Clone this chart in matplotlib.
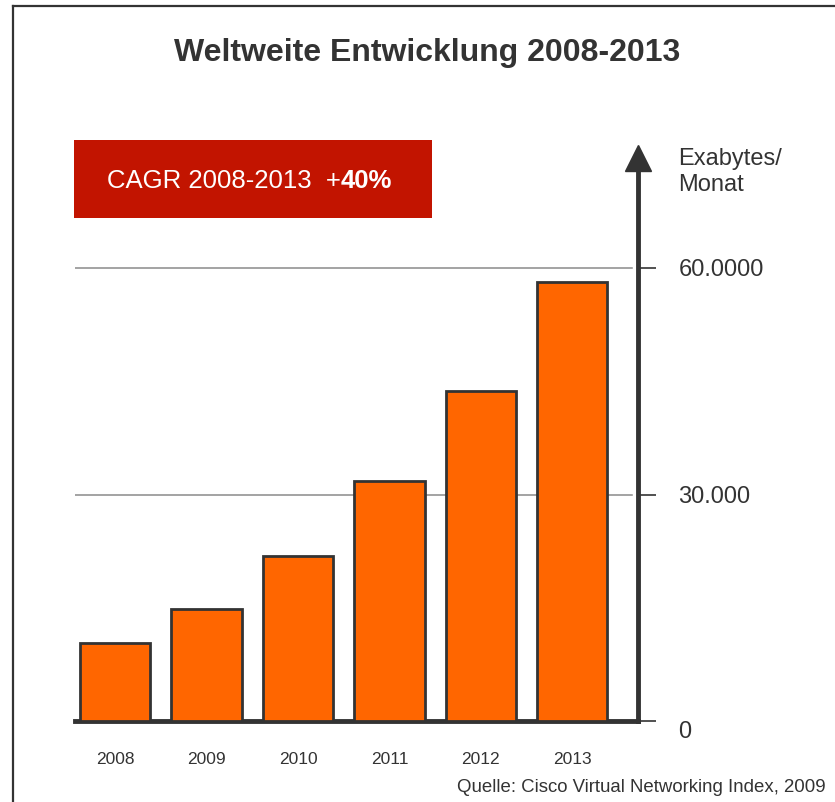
import matplotlib
matplotlib.use("Agg")
import matplotlib.pyplot as plt
from matplotlib.lines import Line2D
from matplotlib.patches import Rectangle

plt.rcParams['font.family'] = ['Liberation Sans', 'DejaVu Sans']

# Datenverkehr in Exabytes pro Monat
years = ['2008', '2009', '2010', '2011', '2012', '2013']
traffic = [10.3, 14.9, 21.8, 31.8, 43.7, 58.1]
yticks = [0, 30, 60]
yticklabels = ['0', '30.000', '60.0000']

W, H = 835, 802
fig = plt.figure(figsize=(W / 100, H / 100), dpi=100)

# axes box in pixel terms: left 75, right 638, baseline 721, arrow tip 145
x0, x1, yb, yt = 75, 638, 721, 145
ax = fig.add_axes([x0 / W, (H - yb) / H, (x1 - x0) / W, (yb - yt) / H])

dark = '#333333'
pos = list(range(len(years)))
ax.bar(pos, traffic, width=0.77, color='#ff6600', edgecolor=dark,
       linewidth=2, zorder=3)

ax.set_xlim(-0.44, 5.72)
ax.set_ylim(0, (yb - yt) / 7.55)

# horizontal guides
for v in yticks[1:]:
    ax.plot([-0.44, 5.65], [v, v], color='#8a8a8a', lw=1.1, zorder=1)

for s in ['top', 'left']:
    ax.spines[s].set_visible(False)
ax.spines['bottom'].set_color(dark)
ax.spines['bottom'].set_linewidth(3.5)
ax.spines['right'].set_color(dark)
ax.spines['right'].set_linewidth(3.5)
ax.spines['right'].set_bounds(0, (yb - 168) / 7.55)

# arrow head on the value axis
ax.plot([1], [1 - 12.5 / (yb - yt)], marker='^', markersize=18.5,
        color=dark, transform=ax.transAxes, clip_on=False, zorder=5)

ax.yaxis.tick_right()
ax.set_yticks(yticks)
ax.set_yticklabels(yticklabels, fontsize=17, color=dark)
ax.tick_params(axis='y', length=13, width=1.2, color=dark, pad=16)
ax.get_yticklabels()[0].set_va('top')
ax.set_xticks(pos)
ax.set_xticklabels(years, fontsize=12.5, color=dark)
ax.tick_params(axis='x', length=0, pad=22)

fig.text(678 / W, 1 - 172 / H, 'Exabytes/\nMonat', fontsize=17, color=dark,
         va='center', ha='left', linespacing=1.2)

fig.text(427 / W, 1 - 53 / H, 'Weltweite Entwicklung 2008-2013',
         fontsize=23, fontweight='bold', color=dark, ha='center', va='center')

# CAGR box
fig.add_artist(Rectangle((74 / W, 1 - 218 / H), (432 - 74) / W, 78 / H,
                         transform=fig.transFigure, facecolor='#c21400',
                         edgecolor='none'))
t1 = fig.text(107 / W, 1 - 181 / H, 'CAGR 2008-2013  +', fontsize=18.5,
              color='white', ha='left', va='center')
fig.canvas.draw()
bb = t1.get_window_extent()
fig.text(bb.x1 / W, 1 - 181 / H, '40%', fontsize=18.5, fontweight='bold',
         color='white', ha='left', va='center')

fig.text(826 / W, 1 - 788 / H, 'Quelle: Cisco Virtual Networking Index, 2009',
         fontsize=13.4, color=dark, ha='right', va='center')

# outer frame lines
fig.add_artist(Line2D([13 / W, 13 / W], [0, 1 - 6 / H], color=dark, lw=1.6))
fig.add_artist(Line2D([13 / W, 1], [1 - 6 / H, 1 - 6 / H], color=dark, lw=1.6))

fig.savefig('out.png', dpi=100)
